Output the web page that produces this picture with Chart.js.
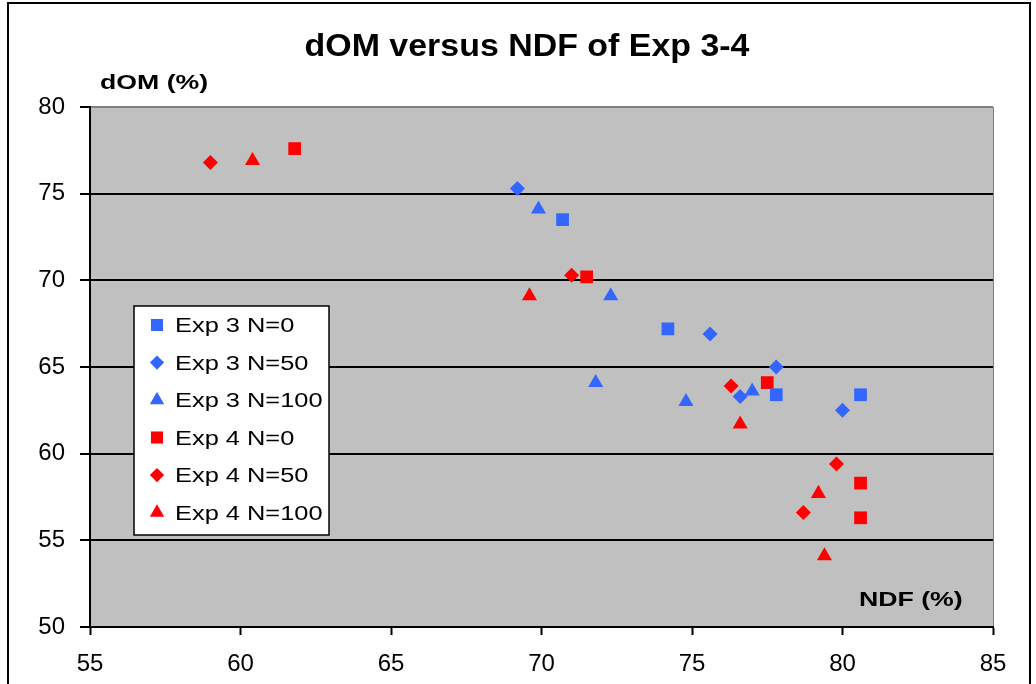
<!DOCTYPE html>
<html>
<head>
<meta charset="utf-8">
<title>dOM versus NDF of Exp 3-4</title>
<script src="https://cdn.jsdelivr.net/npm/chart.js@4.4.1/dist/chart.umd.min.js"></script>
<style>
    html, body { margin: 0; padding: 0; background: #fff; }
</style>
</head>
<body>
<canvas id="chart" width="1036" height="684"></canvas>
<script>
// =============================
// DATA (NDF % on x, dOM % on y)
// =============================
const seriesNames = ['Exp 3 N=0', 'Exp 3 N=50', 'Exp 3 N=100', 'Exp 4 N=0', 'Exp 4 N=50', 'Exp 4 N=100'];

const exp3N0X   = [70.7, 74.2, 77.8, 80.6];
const exp3N0Y   = [73.5, 67.2, 63.4, 63.4];
const exp3N50X  = [69.2, 75.6, 77.8, 76.6, 80.0];
const exp3N50Y  = [75.3, 66.9, 65.0, 63.3, 62.5];
const exp3N100X = [69.9, 72.3, 71.8, 74.8, 77.0];
const exp3N100Y = [74.1, 69.1, 64.1, 63.0, 63.6];
const exp4N0X   = [61.8, 71.5, 77.5, 80.6, 80.6];
const exp4N0Y   = [77.6, 70.2, 64.1, 58.3, 56.3];
const exp4N50X  = [59.0, 71.0, 76.3, 79.8, 78.7];
const exp4N50Y  = [76.8, 70.3, 63.9, 59.4, 56.6];
const exp4N100X = [60.4, 69.6, 76.6, 79.2, 79.4];
const exp4N100Y = [76.9, 69.1, 61.7, 57.7, 54.1];

const xTicks = [55, 60, 65, 70, 75, 80, 85];
const yTicks = [50, 55, 60, 65, 70, 75, 80];

const chartTitle = 'dOM versus NDF of Exp 3-4';
const yTitle = 'dOM (%)';
const xTitle = 'NDF (%)';

// =============================
// STYLE
// =============================
const BLUE = '#3366ff';
const RED = '#ff0000';
const FONT = '"Liberation Sans", Arial, sans-serif';
const STRETCH = 1.27;   // Excel text renders wider than Arial

const markerSizes = { rect: 9, rectRot: 7.5, triangle: 8.7 };

function toPoints(xs, ys) {
    return xs.map((x, i) => ({ x: x, y: ys[i] }));
}

function makeSet(idx, xs, ys, color, style) {
    return {
        label: seriesNames[idx],
        data: toPoints(xs, ys),
        backgroundColor: color,
        borderColor: color,
        borderWidth: 0,
        pointStyle: style,
        pointRadius: markerSizes[style],
        pointHoverRadius: markerSizes[style]
    };
}

function drawMarker(ctx, style, x, y, r, color) {
    ctx.fillStyle = color;
    ctx.beginPath();
    if (style === 'rect') {
        const s = r * Math.SQRT1_2;
        ctx.rect(x - s, y - s, 2 * s, 2 * s);
    } else if (style === 'rectRot') {
        ctx.moveTo(x - r, y);
        ctx.lineTo(x, y - r);
        ctx.lineTo(x + r, y);
        ctx.lineTo(x, y + r);
        ctx.closePath();
    } else {
        ctx.moveTo(x, y - r);
        ctx.lineTo(x + r * 0.866, y + r / 2);
        ctx.lineTo(x - r * 0.866, y + r / 2);
        ctx.closePath();
    }
    ctx.fill();
}

function stretchedText(ctx, text, x, y, font, sx) {
    ctx.save();
    ctx.font = font;
    ctx.fillStyle = '#000';
    ctx.textBaseline = 'alphabetic';
    ctx.textAlign = 'left';
    ctx.translate(x, y);
    ctx.scale(sx, 1);
    ctx.fillText(text, 0, 0);
    ctx.restore();
}

// grey plot background + outer frame
const backgroundPlugin = {
    id: 'plotBackground',
    beforeDraw(chart) {
        const { ctx, chartArea: a } = chart;
        ctx.save();
        ctx.fillStyle = '#fff';
        ctx.fillRect(0, 0, chart.width, chart.height);
        ctx.fillStyle = '#c0c0c0';
        ctx.fillRect(a.left, a.top, a.right - a.left, a.bottom - a.top);
        ctx.strokeStyle = '#808080';
        ctx.lineWidth = 1;
        ctx.beginPath();
        ctx.moveTo(a.right + 0.5, a.top);
        ctx.lineTo(a.right + 0.5, a.bottom);
        ctx.stroke();
        ctx.strokeStyle = '#000';
        ctx.lineWidth = 2;
        ctx.strokeRect(8, 3, 1022, 720);
        ctx.restore();
    }
};

// titles and the legend box inside the plot
const labelsPlugin = {
    id: 'excelLabels',
    afterDraw(chart) {
        const { ctx } = chart;

        ctx.save();
        ctx.font = 'bold 32px ' + FONT;
        const tw = ctx.measureText(chartTitle).width * 1.06;
        ctx.restore();
        stretchedText(ctx, chartTitle, 527 - tw / 2, 56, 'bold 32px ' + FONT, 1.06);

        stretchedText(ctx, yTitle, 100, 89, 'bold 21px ' + FONT, STRETCH);
        stretchedText(ctx, xTitle, 859, 606, 'bold 21px ' + FONT, STRETCH);

        // legend
        ctx.save();
        ctx.fillStyle = '#fff';
        ctx.fillRect(134, 306, 195, 229);
        ctx.strokeStyle = '#000';
        ctx.lineWidth = 1.5;
        ctx.strokeRect(134, 306, 195, 229);
        ctx.restore();

        chart.data.datasets.forEach((ds, i) => {
            const cy = 325 + i * 37.5;
            drawMarker(ctx, ds.pointStyle, 157, cy, markerSizes[ds.pointStyle] * 0.95, ds.backgroundColor);
            stretchedText(ctx, ds.label, 175, cy + 7, '20px ' + FONT, STRETCH);
        });
    }
};

const ctx = document.getElementById('chart').getContext('2d');

new Chart(ctx, {
    type: 'scatter',
    data: {
        datasets: [
            makeSet(0, exp3N0X, exp3N0Y, BLUE, 'rect'),
            makeSet(1, exp3N50X, exp3N50Y, BLUE, 'rectRot'),
            makeSet(2, exp3N100X, exp3N100Y, BLUE, 'triangle'),
            makeSet(3, exp4N0X, exp4N0Y, RED, 'rect'),
            makeSet(4, exp4N50X, exp4N50Y, RED, 'rectRot'),
            makeSet(5, exp4N100X, exp4N100Y, RED, 'triangle')
        ]
    },
    options: {
        responsive: false,
        animation: false,
        layout: { padding: { top: 107, right: 43, bottom: 0, left: 0 } },
        scales: {
            x: {
                type: 'linear',
                min: xTicks[0],
                max: xTicks[xTicks.length - 1],
                afterBuildTicks: (scale) => { scale.ticks = xTicks.map(v => ({ value: v })); },
                afterFit: (scale) => { scale.height = 57; },
                grid: {
                    drawOnChartArea: false,
                    drawTicks: true,
                    tickLength: 8,
                    tickColor: '#000',
                    tickWidth: 2
                },
                border: { display: true, color: '#000', width: 2 },
                ticks: {
                    color: '#000',
                    padding: 15,
                    font: { family: FONT, size: 24 },
                    maxRotation: 0
                }
            },
            y: {
                type: 'linear',
                min: yTicks[0],
                max: yTicks[yTicks.length - 1],
                afterBuildTicks: (scale) => { scale.ticks = yTicks.map(v => ({ value: v })); },
                afterFit: (scale) => { scale.width = 90; },
                grid: {
                    color: (c) => (c.tick && c.tick.value === yTicks[yTicks.length - 1]) ? '#808080' : '#000',
                    lineWidth: 2,
                    drawTicks: true,
                    tickLength: 10,
                    tickColor: '#000',
                    tickWidth: 2
                },
                border: { display: true, color: '#000', width: 2 },
                ticks: {
                    color: '#000',
                    padding: 15,
                    font: { family: FONT, size: 24 }
                }
            }
        },
        plugins: {
            legend: { display: false },
            title: { display: false },
            tooltip: { enabled: false }
        }
    },
    plugins: [backgroundPlugin, labelsPlugin]
});
</script>
</body>
</html>
